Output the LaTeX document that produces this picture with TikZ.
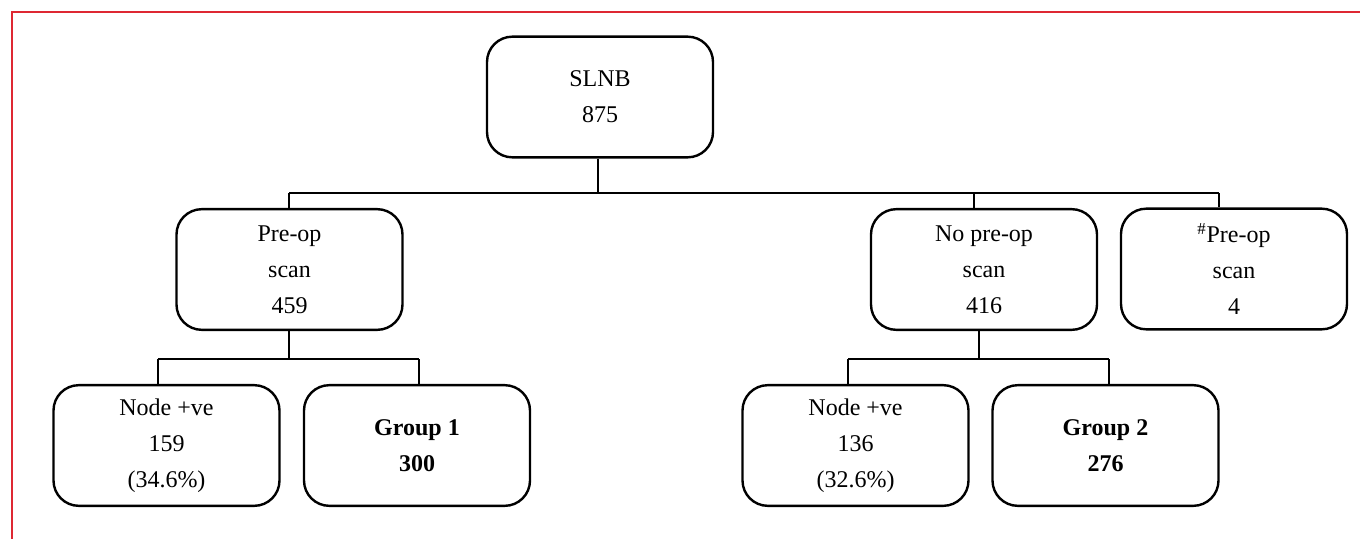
\documentclass[tikz,border=0pt]{standalone}
\usepackage{fontspec}
\setmainfont{Liberation Serif}
\usetikzlibrary{calc}
\definecolor{frame}{RGB}{222,40,50}
\tikzset{
  box/.style={draw=black, line width=1.8pt, rounded corners=19pt, minimum width=169.5pt, minimum height=90.5pt, inner sep=0pt, align=center, font=\fontsize{18pt}{27pt}\selectfont},
  conn/.style={draw=black, line width=1.1pt},
}
\begin{document}
\begin{tikzpicture}[x=0.75pt, y=-0.75pt]
\useasboundingbox (0,0) rectangle (1360,539);
\draw[frame, line width=1.6pt] (12,545) -- (12,12) -- (1366,12);

\node[box] (slnb) at (600,97) {SLNB\\875};
\node[box] (pre) at (289.5,269.5) {Pre-op\\scan\\459};
\node[box] (nopre) at (984,269.5) {No pre-op\\scan\\416};
\node[box] (hpre) at (1234,269) {\textsuperscript{\#}Pre-op\\scan\\4};
\node[box] (n1) at (166.5,445.5) {Node +ve\\159\\(34.6\%)};
\node[box] (g1) at (417,445.5) {\textbf{Group 1}\\\textbf{300}};
\node[box] (n2) at (855.5,445.5) {Node +ve\\136\\(32.6\%)};
\node[box] (g2) at (1105.5,445.5) {\textbf{Group 2}\\\textbf{276}};

\coordinate (bus1) at (0,193);
\coordinate (bus2) at (0,359);
\coordinate (sS) at ([xshift=-1.5pt]slnb.south);
\coordinate (pN) at ([xshift=-0.375pt]pre.north);
\coordinate (pS) at ([xshift=-0.375pt]pre.south);
\coordinate (npN) at ([xshift=-7.5pt]nopre.north);
\coordinate (npS) at ([xshift=-3.75pt]nopre.south);
\coordinate (hN) at ([xshift=-11.25pt]hpre.north);
\coordinate (n1N) at ([xshift=-6.4pt]n1.north);
\coordinate (g1N) at ([xshift=1.5pt]g1.north);
\coordinate (n2N) at ([xshift=-5.6pt]n2.north);
\coordinate (g2N) at ([xshift=2.6pt]g2.north);

\draw[conn] (sS) -- (sS |- bus1);
\draw[conn] (pN |- bus1) -- (hN |- bus1);
\draw[conn] (pN |- bus1) -- (pN);
\draw[conn] (npN |- bus1) -- (npN);
\draw[conn] (hN |- bus1) -- (hN);

\draw[conn] (pS) -- (pS |- bus2);
\draw[conn] (n1N |- bus2) -- (g1N |- bus2);
\draw[conn] (n1N |- bus2) -- (n1N);
\draw[conn] (g1N |- bus2) -- (g1N);

\draw[conn] (npS) -- (npS |- bus2);
\draw[conn] (n2N |- bus2) -- (g2N |- bus2);
\draw[conn] (n2N |- bus2) -- (n2N);
\draw[conn] (g2N |- bus2) -- (g2N);
\end{tikzpicture}
\end{document}
